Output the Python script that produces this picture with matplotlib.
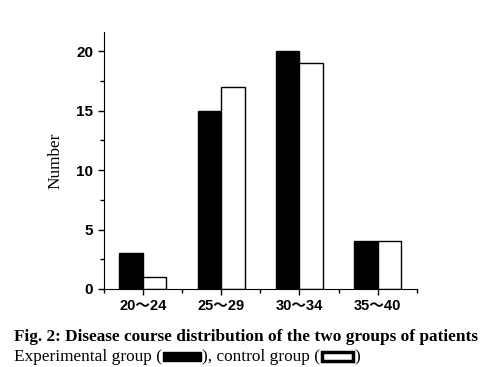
import matplotlib.pyplot as plt
import numpy as np
from matplotlib.patches import Rectangle
from matplotlib.ticker import MultipleLocator

categories = ["20～24", "25～29", "30～34", "35～40"]
experimental = [3, 15, 20, 4]
control = [1, 17, 19, 4]

W, H = 483, 367
fig = plt.figure(figsize=(W / 100, H / 100), dpi=100)
# axes box in pixels: left 103.5, right 417, top 32, bottom 289
ax = fig.add_axes([103.5 / W, 1 - 289 / H, (417 - 103.5) / W, (289 - 32) / H])

x = np.arange(len(categories))
w = 0.3
ax.bar(x - w / 2, experimental, w, color="black", edgecolor="black", linewidth=1)
ax.bar(x + w / 2, control, w, color="white", edgecolor="black", linewidth=1)

ax.set_xlim(-0.5, 3.5)
ax.set_ylim(0, 21.6)
for s in ["top", "right"]:
    ax.spines[s].set_visible(False)
ax.yaxis.set_major_locator(MultipleLocator(5))
ax.yaxis.set_minor_locator(MultipleLocator(2.5))
ax.set_xticks(x)
ax.set_xticks(np.arange(-0.5, 3.6, 1), minor=True)
ax.tick_params(which="both", direction="out", width=1)
ax.tick_params(which="major", length=4)
ax.tick_params(which="minor", length=3)
ax.set_xticklabels(categories, family=["Liberation Sans", "Noto Sans CJK SC"],
                   fontweight="bold", fontsize=10.5)
for lab in ax.get_yticklabels():
    lab.set_family("Liberation Sans")
    lab.set_fontweight("bold")
    lab.set_fontsize(11)
ax.set_ylabel("Number", family="Liberation Serif", fontsize=12.4, labelpad=9)

# caption
fs = 12.4
fig.text(14 / W, 1 - 341 / H, "Fig. 2: Disease course distribution of the two groups of patients",
         family="Liberation Serif", fontweight="bold", fontsize=fs, ha="left", va="baseline")

cap_y = 1 - 361 / H
fig.canvas.draw()
r = fig.canvas.get_renderer()


def put(xpix, s):
    t = fig.text(xpix / W, cap_y, s, family="Liberation Serif", fontsize=fs,
                 ha="left", va="baseline")
    bb = t.get_window_extent(renderer=r)
    return bb.x1


def box(xpix, wpix, face, lw):
    fig.patches.append(Rectangle((xpix / W, 1 - 361 / H), wpix / W, 9 / H,
                                 transform=fig.transFigure, facecolor=face,
                                 edgecolor="black", linewidth=lw))
    return xpix + wpix


xp = put(14, "Experimental group (")
xp = box(xp + 1, 38, "black", 1)
xp = put(xp + 1, "), control group (")
xp = box(xp + 2, 31, "white", 2.5)
put(xp + 1, ")")

fig.savefig("out.png", dpi=100)
